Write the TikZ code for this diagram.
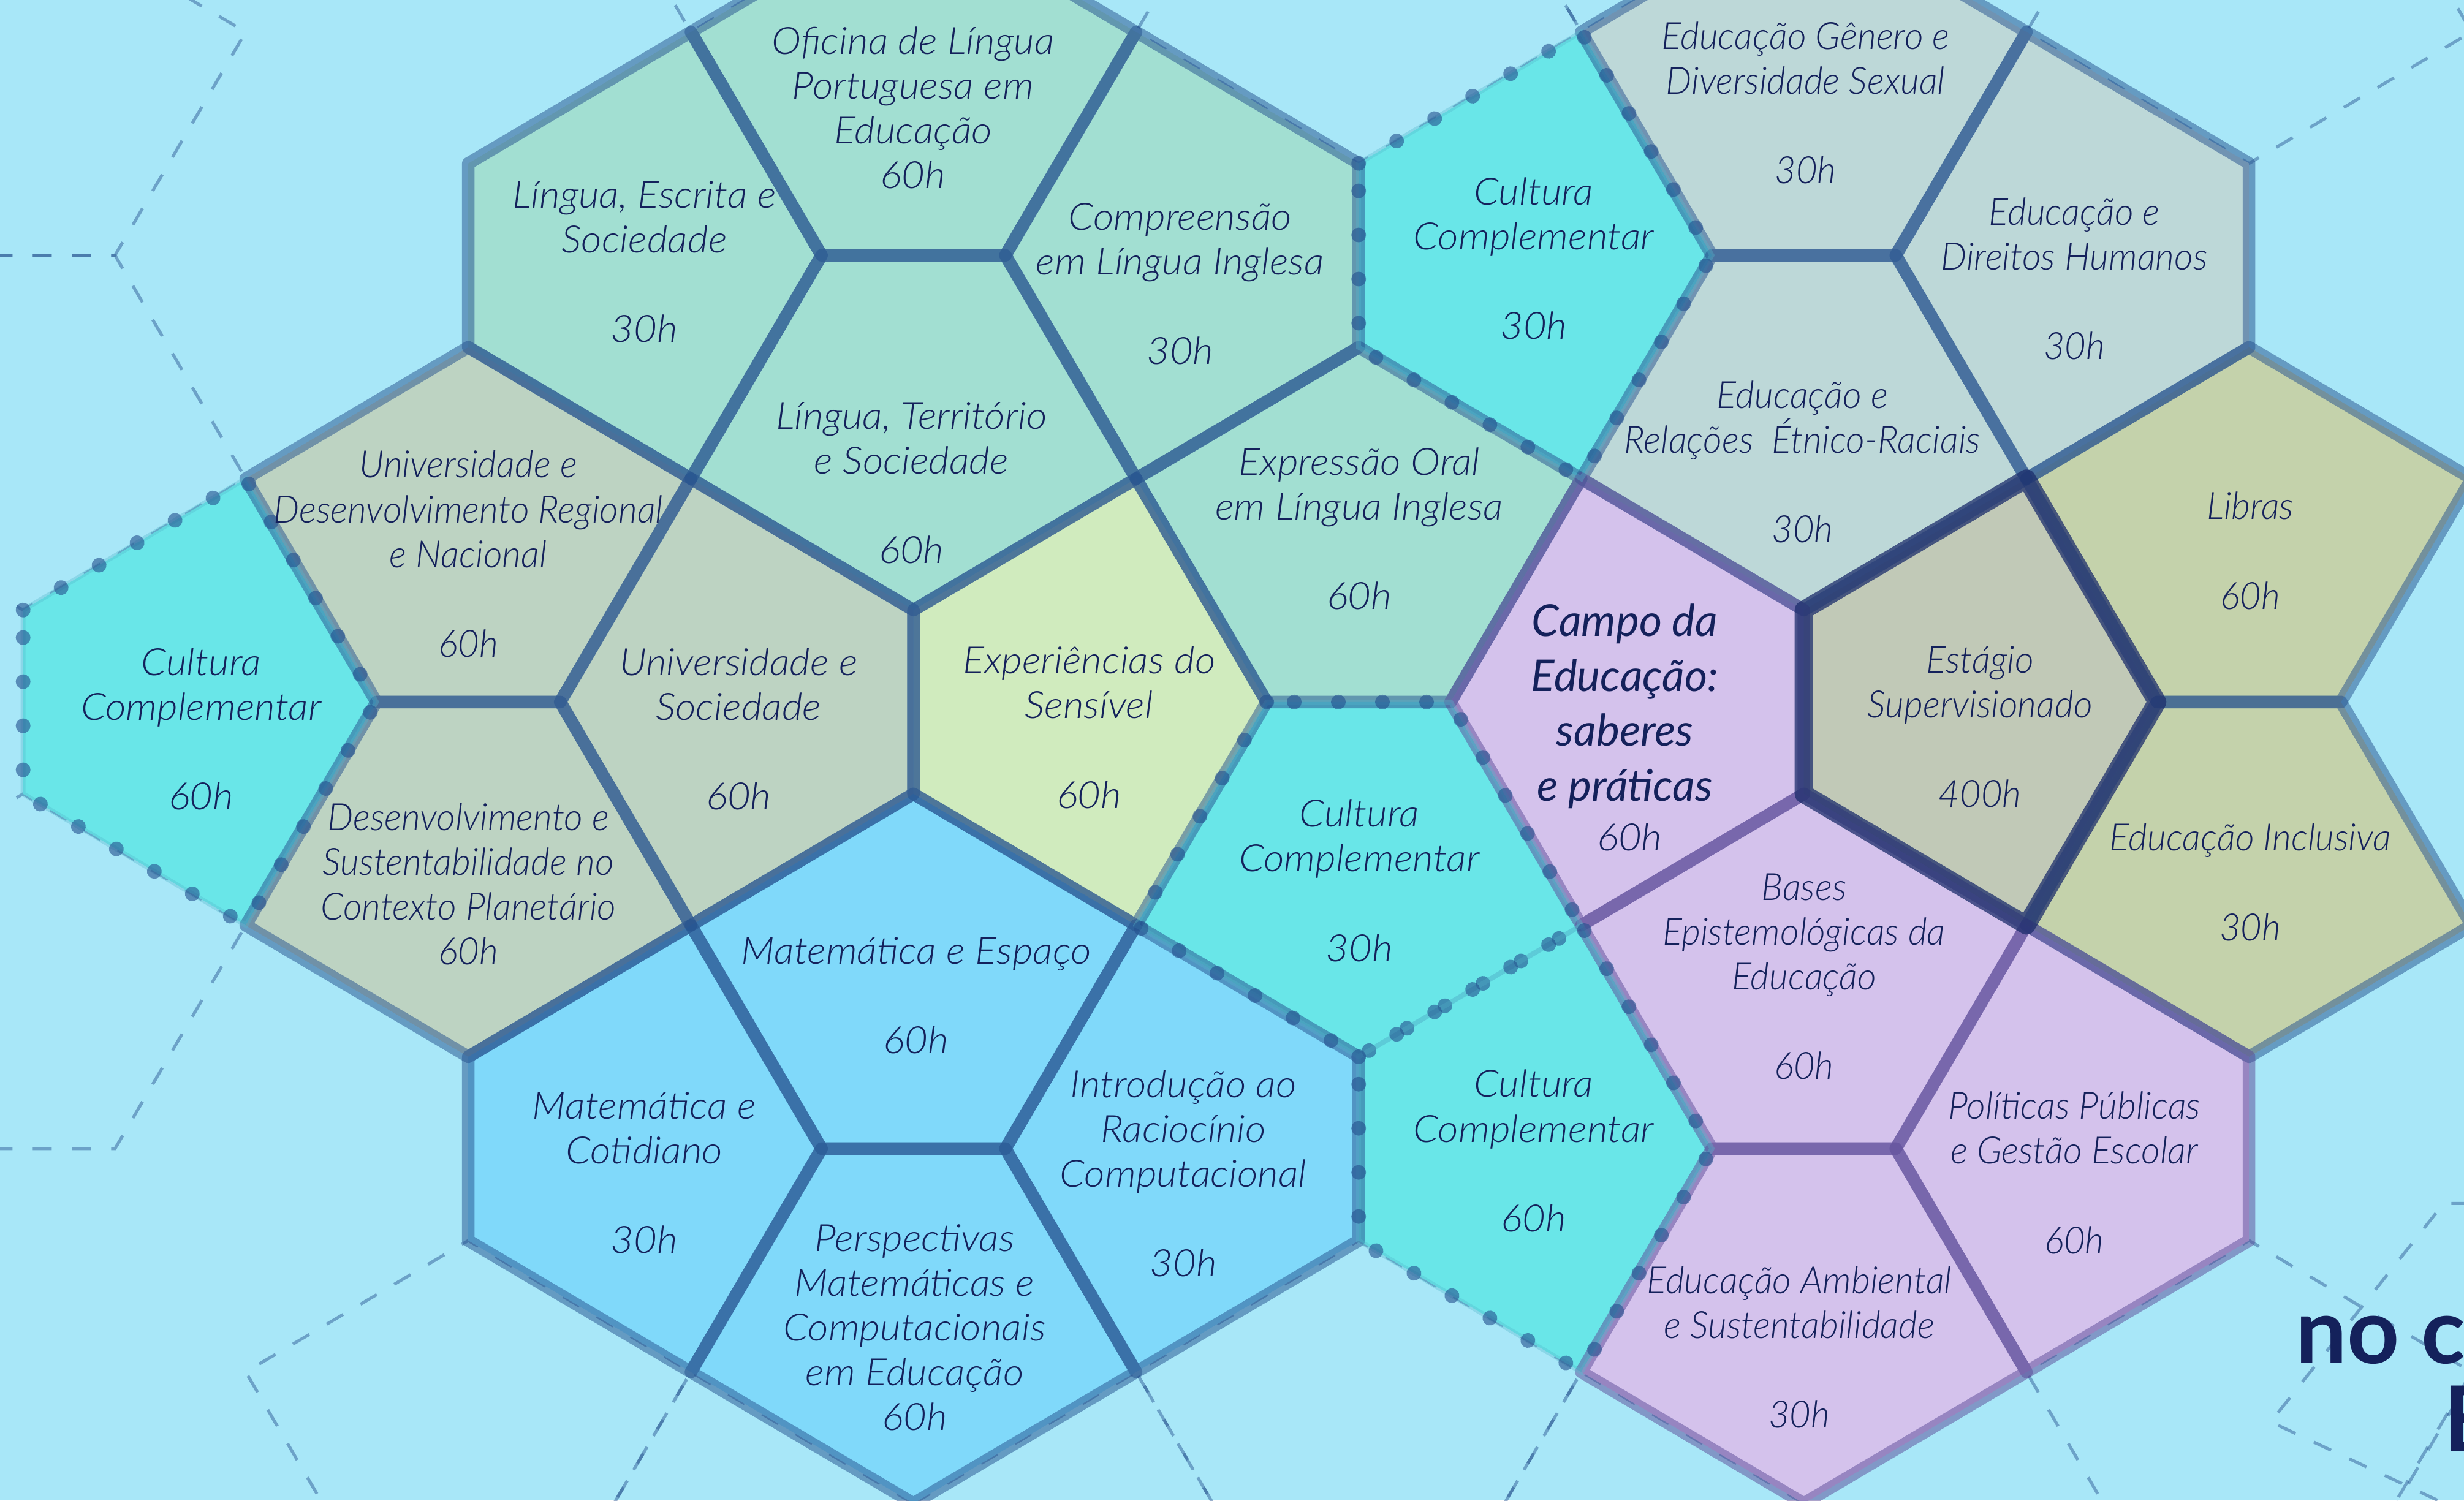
\documentclass[tikz,border=0pt]{standalone}
\usepackage{fontspec}
\setmainfont{Lato}[ItalicFont={Lato Light Italic}, FakeStretch=1.06]
\newfontfamily\narrowfont{Lato}[ItalicFont={Lato Light Italic}, FakeStretch=0.97]
\newfontfamily\campofont{Lato}
\usetikzlibrary{decorations.markings}

\definecolor{bgblue}{HTML}{A8E7F8}
\definecolor{ink}{HTML}{14215B}
\definecolor{edgeblue}{HTML}{24508E}
\definecolor{edgepurple}{HTML}{5B4A98}
\definecolor{edgenavy}{HTML}{1C2D6B}
\definecolor{langgreen}{HTML}{A2DFD2}
\definecolor{unigray}{HTML}{BDD3C2}
\definecolor{senslime}{HTML}{D0EBBE}
\definecolor{mathblue}{HTML}{80D9FA}
\definecolor{cultcyan}{HTML}{69E6E8}
\definecolor{eduslate}{HTML}{BDD8D8}
\definecolor{libkhaki}{HTML}{C4D2AB}
\definecolor{stagegray}{HTML}{C1C9B7}
\definecolor{campolilac}{HTML}{D4C2EC}

% one pentagon of the tiling: type (vr, vl, ht, hb), column, row, style
\newcommand{\tile}[4]{%
  \pgfmathsetmacro{\cx}{298+283.3*(#2)}%
  \pgfmathsetmacro{\cy}{162.5+284.3*(#3)}%
  \csname tile#1\endcsname{#4}}
\newcommand{\tilevr}[1]{\path[#1] (\cx,\cy-58.5) -- (\cx+141.65,\cy-142.15) -- (\cx+224.8,\cy) -- (\cx+141.65,\cy+142.15) -- (\cx,\cy+58.5) -- cycle;}
\newcommand{\tilevl}[1]{\path[#1] (\cx,\cy-58.5) -- (\cx-141.65,\cy-142.15) -- (\cx-224.8,\cy) -- (\cx-141.65,\cy+142.15) -- (\cx,\cy+58.5) -- cycle;}
\newcommand{\tileht}[1]{\path[#1] (\cx-58.5,\cy) -- (\cx-141.65,\cy-142.15) -- (\cx,\cy-225.8) -- (\cx+141.65,\cy-142.15) -- (\cx+58.5,\cy) -- cycle;}
\newcommand{\tilehb}[1]{\path[#1] (\cx-58.5,\cy) -- (\cx-141.65,\cy+142.15) -- (\cx,\cy+225.8) -- (\cx+141.65,\cy+142.15) -- (\cx+58.5,\cy) -- cycle;}

\begin{document}
\begin{tikzpicture}[x=0.025644cm, y=-0.025644cm,
    edge/.style={draw=edgeblue, draw opacity=0.5, line width=0.205cm, line join=round},
    lilacedge/.style={edge, draw=edgepurple},
    stageedge/.style={draw=edgenavy, draw opacity=0.75, line width=0.3cm, line join=round},
    dotline/.style={draw=cultcyan!70!edgeblue, draw opacity=0.35, line width=0.08cm,
      postaction={decorate, decoration={markings,
        mark=between positions 0 and 1 step 0.72cm with {\fill[edgeblue, fill opacity=0.6] (0,0) circle[radius=0.12cm];}}}},
    ghost/.style={draw=edgeblue, draw opacity=0.45, line width=0.05cm, dash pattern=on 0.31cm off 0.33cm},
    label/.style={text=ink, align=center, font=\fontsize{17.5pt}{20.8pt}\selectfont\itshape},
    nlabel/.style={label, font=\fontsize{17.5pt}{20.8pt}\selectfont\narrowfont\itshape},
    campo/.style={text=ink, align=center, font=\fontsize{20.4pt}{25.5pt}\selectfont\campofont\itshape},
    title/.style={text=ink, anchor=base west, font=\fontsize{42.3pt}{40pt}\selectfont\campofont\bfseries}]

  \useasboundingbox (0,0) rectangle (1568,955);
  \clip (0,0) rectangle (1568,955);
  \fill[bgblue] (0,0) rectangle (1568,955);

  % Background pattern
  \foreach \sh/\i/\j in {ht/-1/0, hb/-1/0, ht/-1/2, ht/0/3, vl/1/3, vr/1/3, ht/2/3, vl/3/3,
                         ht/4/3, hb/4/-1, hb/2/-1, vl/1/-1, vl/3/-1}
    {\tile{\sh}{\i}{\j}{ghost}}
  \draw[ghost] (1572,766) -- (1555,766) -- (1445,905) -- (1562,960);
  \draw[ghost] (1520,966) -- (1576,870);

  % Tiles
  \foreach \sh/\i/\j/\col in {vr/0/0/langgreen, ht/1/0/langgreen, hb/1/0/langgreen, vl/2/0/langgreen,
                              vr/2/0/cultcyan, ht/3/0/eduslate, hb/3/0/eduslate, vl/4/0/eduslate,
                              vr/-1/1/cultcyan, ht/0/1/unigray, hb/0/1/unigray, vl/1/1/unigray,
                              vr/1/1/senslime, ht/2/1/langgreen, hb/2/1/cultcyan, vl/3/1/campolilac,
                              vr/3/1/stagegray, ht/4/1/libkhaki, hb/4/1/libkhaki, vr/0/2/mathblue,
                              ht/1/2/mathblue, hb/1/2/mathblue, vl/2/2/mathblue, vr/2/2/cultcyan,
                              ht/3/2/campolilac, hb/3/2/campolilac, vl/4/2/campolilac}
    {\tile{\sh}{\i}{\j}{fill=\col}}

  % Borders
  \foreach \sh/\i/\j in {vr/0/0, ht/1/0, hb/1/0, vl/2/0, ht/3/0, hb/3/0, vl/4/0,
                         ht/0/1, hb/0/1, vl/1/1, vr/1/1, ht/2/1, ht/4/1, hb/4/1,
                         vr/0/2, ht/1/2, hb/1/2, vl/2/2}
    {\tile{\sh}{\i}{\j}{edge}}
  \foreach \sh/\i/\j in {vl/3/1, ht/3/2, hb/3/2, vl/4/2}
    {\tile{\sh}{\i}{\j}{lilacedge}}
  \tile{vr}{3}{1}{stageedge}
  \foreach \sh/\i/\j in {vr/2/0, vr/-1/1, hb/2/1, vr/2/2}
    {\tile{\sh}{\i}{\j}{dotline}}

  % Labels
  \node[label] (oficina) at (581,68.5) {Oficina de Língua\\Portuguesa em\\Educação\\60h};
  \node[label] (escrita) at (410,166.5) {Língua, Escrita e\\Sociedade\\[20.8pt]30h};
  \node[label] (compreensao) at (751,180.5) {Compreensão\\em Língua Inglesa\\[20.8pt]30h};
  \node[label] (territorio) at (580,307.5) {Língua, Território\\e Sociedade\\[20.8pt]60h};
  \node[label] (cultA) at (976,164.5) {Cultura\\Complementar\\[20.8pt]30h};
  \node[nlabel] (genero) at (1149,65.5) {Educação Gênero e\\Diversidade Sexual\\[20.8pt]30h};
  \node[nlabel] (direitos) at (1320,177.5) {Educação e\\Direitos Humanos\\[20.8pt]30h};
  \node[nlabel] (etnico) at (1147,294) {Educação e\\Relações\ \ Étnico-Raciais\\[20.8pt]30h};
  \node[nlabel] (regional) at (298,352.5) {Universidade e\\Desenvolvimento Regional\\e Nacional\\[20.8pt]60h};
  \node[label] (cultB) at (128,464) {Cultura\\Complementar\\[20.8pt]60h};
  \node[label] (sociedade) at (470,464) {Universidade e\\Sociedade\\[20.8pt]60h};
  \node[label] (sensivel) at (693,463) {Experiências do\\Sensível\\[20.8pt]60h};
  \node[label] (oral) at (865,336.5) {Expressão Oral\\em Língua Inglesa\\[20.8pt]60h};
  \node[campo] (campo) at (1034,449.5) {Campo da\\Educação:\\saberes\\e práticas};
  \node[label] (campoh) at (1037,533) {60h};
  \node[nlabel] (estagio) at (1260,462.5) {Estágio\\Supervisionado\\[20.8pt]400h};
  \node[nlabel] (libras) at (1432,350.5) {Libras\\[20.8pt]60h};
  \node[nlabel] (inclusiva) at (1432,561.5) {Educação Inclusiva\\[20.8pt]30h};
  \node[nlabel] (planeta) at (298,562.5) {Desenvolvimento e\\Sustentabilidade no\\Contexto Planetário\\60h};
  \node[label] (cultC) at (865,560.5) {Cultura\\Complementar\\[20.8pt]30h};
  \node[label] (espaco) at (583,633.5) {Matemática e Espaço\\[20.8pt]60h};
  \node[nlabel] (bases) at (1148,621.5) {Bases\\Epistemológicas da\\Educação\\[20.8pt]60h};
  \node[label] (cotidiano) at (410,746.5) {Matemática e\\Cotidiano\\[20.8pt]30h};
  \node[label] (raciocinio) at (753,747) {Introdução ao\\Raciocínio\\Computacional\\[20.8pt]30h};
  \node[label] (perspectivas) at (582,845) {Perspectivas\\Matemáticas e\\Computacionais\\em Educação\\60h};
  \node[label] (cultD) at (976,732.5) {Cultura\\Complementar\\[20.8pt]60h};
  \node[nlabel] (politicas) at (1320,746.5) {Políticas Públicas\\e Gestão Escolar\\[20.8pt]60h};
  \node[nlabel] (ambiental) at (1145,857.5) {Educação Ambiental\\e Sustentabilidade\\[20.8pt]30h};

  % Title (cut by the edge)
  \node[title] (titleA) at (1456,868) {no c};
  \node[title] (titleB) at (1550,924) {E};
\end{tikzpicture}
\end{document}
